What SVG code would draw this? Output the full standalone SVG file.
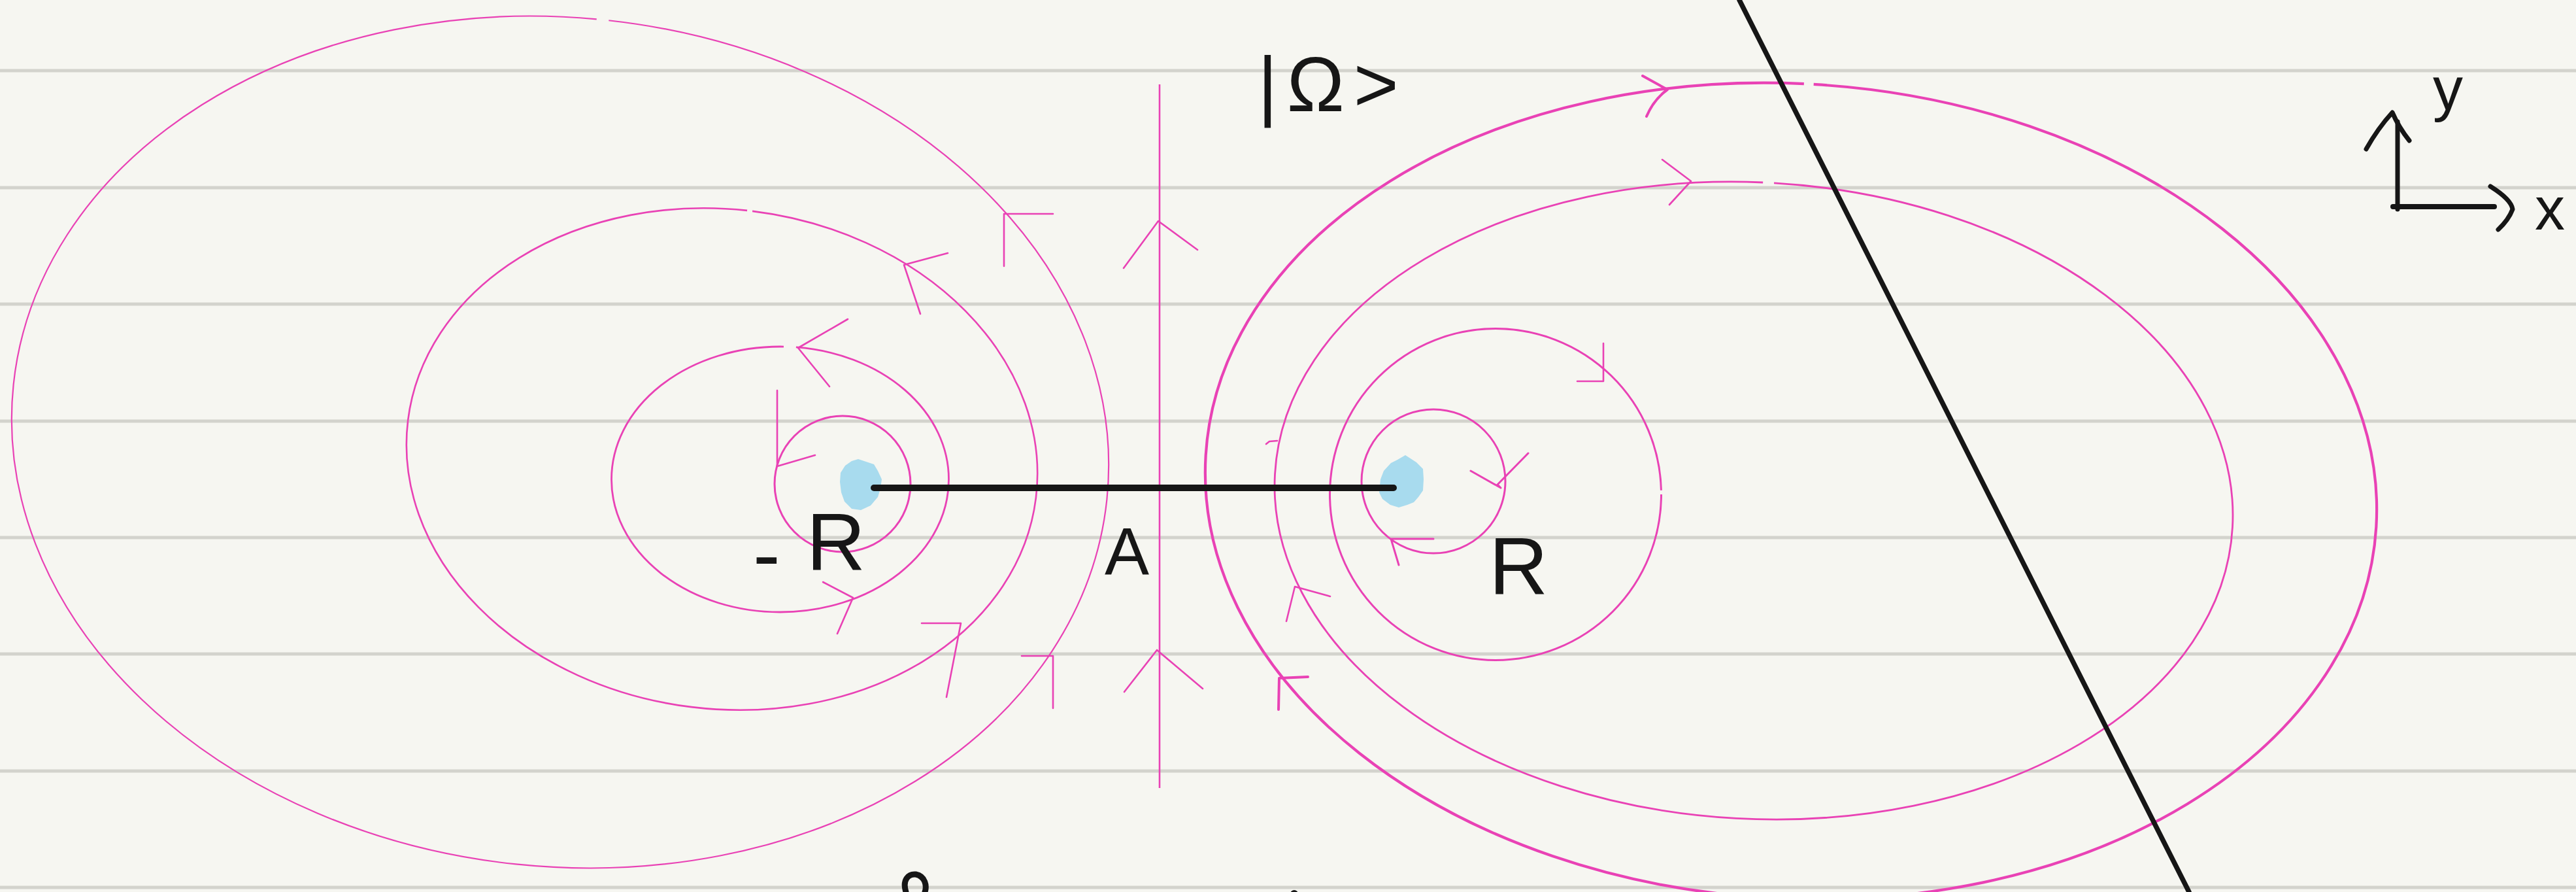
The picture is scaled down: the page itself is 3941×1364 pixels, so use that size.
<svg xmlns="http://www.w3.org/2000/svg" width="3941" height="1364" viewBox="0 0 3941 1364">
<style>
.rule{stroke:#d3d3cd;stroke-width:5;fill:none}
.fl{fill:none;stroke:#e942b5;stroke-width:2.6}
.ar{fill:none;stroke:#e942b5;stroke-width:2.6;stroke-linecap:round;stroke-linejoin:round}
.ink{fill:none;stroke:#161616;stroke-linecap:round;stroke-linejoin:round}
.blob{fill:#a8dbee}
.lbl{font-family:"Liberation Sans",Arial,sans-serif;fill:#161616}
</style>
<rect width="3941" height="1364" fill="#f6f6f1"/>
<g id="ruled-lines">
<line class="rule" x1="0" y1="108" x2="3941" y2="108"/>
<line class="rule" x1="0" y1="287" x2="3941" y2="287"/>
<line class="rule" x1="0" y1="465" x2="3941" y2="465"/>
<line class="rule" x1="0" y1="644" x2="3941" y2="644"/>
<line class="rule" x1="0" y1="822" x2="3941" y2="822"/>
<line class="rule" x1="0" y1="1000" x2="3941" y2="1000"/>
<line class="rule" x1="0" y1="1179" x2="3941" y2="1179"/>
<line class="rule" x1="0" y1="1357" x2="3941" y2="1357"/>
</g>
<g id="charges">
<path class="blob" d="M1313,702 L1337,710 L1343,720 L1349,733 L1347,747 L1343,760 L1332,773 L1317,780 L1303,778 L1292,767 L1287,753 L1285,737 L1286,723 L1293,712 L1303,705 Z"/>
<path class="blob" d="M2150,696 L2167,707 L2177,717 L2178,733 L2177,750 L2170,760 L2163,768 L2153,772 L2140,776 L2127,772 L2115,763 L2110,753 L2112,733 L2117,720 L2128,708 L2138,703 Z"/>
</g>
<g id="field-lines">
<ellipse class="fl" style="stroke-width:2.2" cx="857" cy="676" rx="841" ry="649" transform="rotate(6 857 676)" pathLength="100" stroke-dasharray="74.74 0.4 30"/>
<ellipse class="fl" cx="1104.5" cy="702" rx="484" ry="382" transform="rotate(7 1104.5 702)" pathLength="100" stroke-dasharray="74.7 0.3 30"/>
<ellipse class="fl" style="stroke-width:2.8" cx="1193.5" cy="733" rx="258" ry="203" pathLength="100" stroke-dasharray="75.38 1.3 30"/>
<circle class="fl" style="stroke-width:3" cx="1289" cy="740" r="104"/>
<ellipse class="fl" style="stroke-width:4.2" cx="2740" cy="751" rx="897" ry="623" transform="rotate(3.5 2740 751)" pathLength="100" stroke-dasharray="74.62 0.31 30"/>
<ellipse class="fl" style="stroke-width:2.8" cx="2683" cy="765.5" rx="733.6" ry="486.6" transform="rotate(3.16 2683 765.5)" pathLength="100" stroke-dasharray="74.67 0.44 30"/>
<circle class="fl" style="stroke-width:3" cx="2288" cy="756" r="253.5" pathLength="100" stroke-dasharray="99.6 0.4"/>
<circle class="fl" style="stroke-width:3" cx="2193" cy="736" r="110"/>
<line class="fl" x1="1774" y1="129" x2="1774" y2="1205"/>
</g>
<g id="arrows">
<path class="ar" d="M1719,410 L1772,338 L1832,382"/>
<path class="ar" d="M1720,1058 L1770,994 L1840,1053"/>
<path class="ar" d="M1611,327 L1536,327 L1536,407"/>
<path class="ar" d="M1563,1003 L1611,1003 L1611,1083"/>
<path class="ar" d="M1450,387 L1383,405 L1408,480"/>
<path class="ar" d="M1410,953 L1470,953 L1448,1066"/>
<path class="ar" d="M1297,488 L1221,532 L1269,591"/>
<path class="ar" d="M1259,890 L1305,914 L1281,969"/>
<path class="ar" d="M1189,597 L1189,713 L1247,696"/>
<path class="ar" style="stroke-width:4" d="M2513,116 L2551,137 Q2530,152 2519,178"/>
<path class="ar" style="stroke-width:4" d="M2001,1035 L1957,1037 L1956,1085"/>
<path class="ar" d="M2543,244 L2587,277 L2554,313"/>
<path class="ar" d="M2035,912 L1981,897 L1968,950"/>
<path class="ar" d="M2453,525 L2453,583 L2413,583"/>
<path class="ar" style="stroke-width:3" d="M2250,720 L2296,746 L2291,741 L2338,693"/>
<path class="ar" style="stroke-width:3" d="M2193,824 L2128,824 L2140,864"/>
<path class="ar" d="M1937,679 L1942,675 L1954,674"/>
</g>
<g id="segment">
<line class="ink" style="stroke-width:10" x1="1337" y1="746" x2="2132" y2="746"/>
</g>
<g id="plane">
<line class="ink" style="stroke-width:7.5" x1="2661" y1="0" x2="3349" y2="1364"/>
</g>
<g id="axes">
<line class="ink" style="stroke-width:7" x1="3668" y1="186" x2="3668" y2="320"/>
<line class="ink" style="stroke-width:8" x1="3661" y1="316" x2="3816" y2="316"/>
<path class="ink" style="stroke-width:7" d="M3620,228 Q3638,196 3660,172 Q3670,195 3686,215"/>
<path class="ink" style="stroke-width:7" d="M3810,285 Q3842,305 3844,320 Q3838,336 3822,351"/>
<text class="lbl" x="3878" y="351" font-size="92">x</text>
<text class="lbl" x="3722" y="168" font-size="92">y</text>
</g>
<g id="labels">
<text class="lbl" x="1924" y="170" font-size="118" letter-spacing="14">|Ω&gt;</text>
<text class="lbl" x="1690" y="879" font-size="102">A</text>
<text class="lbl" x="1152" y="890" font-size="125"><tspan>-</tspan><tspan dx="40" dy="-18">R</tspan></text>
<text class="lbl" x="2278" y="909" font-size="125">R</text>
</g>
<g id="cut-off-marks">
<path class="ink" style="stroke-width:9" d="M1386,1364 C1380,1345 1390,1336 1401,1337 C1416,1340 1418,1355 1415,1364"/>
<circle cx="1980" cy="1367" r="6" fill="#161616"/>
</g>
</svg>
